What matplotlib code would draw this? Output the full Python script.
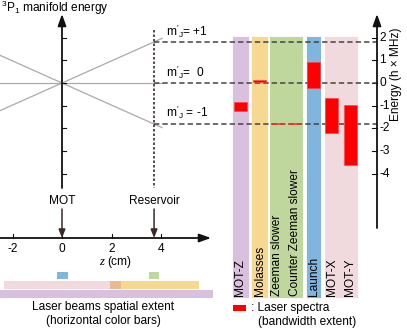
import matplotlib
matplotlib.use("Agg")
import matplotlib.pyplot as plt

plt.rcParams["font.family"] = ["Liberation Sans", "DejaVu Sans"]
plt.rcParams["mathtext.fontset"] = "custom"
plt.rcParams["mathtext.rm"] = "Liberation Sans"
plt.rcParams["mathtext.it"] = "Liberation Sans:italic"

# laser beams, spectra (MHz) and spatial extent (cm)
beams = ["MOT-Z", "Molasses", "Zeeman slower", "Counter Zeeman slower",
         "Launch", "MOT-X", "MOT-Y"]
spec_lo = [-1.23, 0.05, -1.82, -1.82, -0.22, -2.20, -3.60]
spec_hi = [-0.84, 0.12, -1.76, -1.76, 0.92, -0.66, -0.97]

groups = ["MOT-Z", "Molasses", "Zeeman", "Launch", "MOT-X/Y"]
group_colors = ["#d9c0de", "#f6d891", "#bfd79c", "#80b6de", "#f1dadd"]
z_lo = [-2.5, 1.95, 3.5, -0.2, -2.35]
z_hi = [6.1, 5.55, 3.9, 0.25, 2.4]

z_ticks = [-2, 0, 2, 4]
e_ticks = [2, 1, 0, -1, -2, -3, -4]
z_reservoir = 3.72
zeeman_shift = 1.81  # MHz at reservoir for m'J = +-1
mj_labels = [r"$\mathrm{m'_J}$= +1", r"$\mathrm{m'_J}$=  0", r"$\mathrm{m'_J}$ = -1"]


# pixel -> data helpers for layout (x: cm, y: MHz)
def px(x):
    return (x - 62) / 24.75


def py(y):
    return (83 - y) / 22.7


fig = plt.figure(figsize=(4.07, 3.29), dpi=100)
ax = fig.add_axes([0, 0, 1, 1])
ax.set_xlim(px(0), px(407))
ax.set_ylim(py(329), py(0))
ax.axis("off")

fs = 8.6
axis_col = "#111111"
arrow = dict(arrowstyle="-|>,head_length=0.7,head_width=0.25", color=axis_col, lw=1.3,
             shrinkA=0, shrinkB=0)

# --- left: manifold energy vs z ---
slope = zeeman_shift / z_reservoir
z_end = px(162)
for s in (slope, 0, -slope):
    ax.plot([px(0), z_end], [s * px(0), s * z_end], color="#aaaaaa", lw=0.9)

ax.annotate("", xy=(0, py(14)), xytext=(0, py(188)), arrowprops=arrow)
for e in e_ticks:
    ax.plot([0, px(66)], [e, e], color=axis_col, lw=0.8)
ax.text(px(1), py(8), r"$^3$P$_1$ manifold energy", fontsize=fs, va="center", ha="left")

ax.plot([z_reservoir, z_reservoir], [py(30), py(188)], color="#3a2a2a", lw=1.2,
        ls=(0, (1.5, 1.2)))

for e, lab, ylab in zip([zeeman_shift, 0, -zeeman_shift], mj_labels, [31, 72, 112]):
    ax.plot([z_reservoir, px(377)], [e, e], color="#444444", lw=1.1, ls=(0, (3.5, 2)),
            zorder=3)
    ax.text(px(166), py(ylab), lab, fontsize=fs, va="center", ha="left")

# z axis
ax.annotate("", xy=(px(211), py(238)), xytext=(px(0), py(238)), arrowprops=arrow)
for z in z_ticks:
    ax.plot([z, z], [py(238), py(234)], color=axis_col, lw=0.8)
    ax.text(z, py(249), f"{z}", fontsize=fs, ha="center", va="center")
ax.text(px(104), py(262), "z", fontsize=fs + 0.5, family="Liberation Serif",
        style="italic", ha="right", va="center")
ax.text(px(107), py(262), "(cm)", fontsize=fs, ha="left", va="center")

small_arrow = dict(arrowstyle="-|>,head_length=0.5,head_width=0.2", color="#3a2a2a",
                   lw=1.1, shrinkA=0, shrinkB=0)
for z, lab in [(0, "MOT"), (z_reservoir, "Reservoir")]:
    ax.text(z, py(201), lab, fontsize=fs, ha="center", va="center")
    ax.annotate("", xy=(z, py(238)), xytext=(z, py(209)), arrowprops=small_arrow)

# spatial extent bars
rows = {"MOT-Z": (290, 298), "Molasses": (281, 289), "Zeeman": (272, 279),
        "Launch": (272, 279), "MOT-X/Y": (281, 289)}
for g, c, a, b in zip(groups, group_colors, z_lo, z_hi):
    t, btm = rows[g]
    ax.bar(a, py(t) - py(btm), width=b - a, bottom=py(btm), align="edge",
           color=c, lw=0)
ov_a, ov_b = z_lo[1], z_hi[4]
ax.bar(ov_a, py(281) - py(289), width=ov_b - ov_a, bottom=py(289), align="edge",
       color="#eab98e", lw=0)
ax.text(px(103), py(307), "Laser beams spatial extent", fontsize=fs, ha="center", va="center")
ax.text(px(103), py(321), "(horizontal color bars)", fontsize=fs, ha="center", va="center")

# --- right: laser spectra columns ---
col_left = [232, 251, 269, 306, 324]
col_right = [249, 268, 303, 321, 358]
for l, r, c in zip(col_left, col_right, group_colors):
    ax.bar(px(l), py(36) - py(298), width=px(r) - px(l), bottom=py(298),
           align="edge", color=c, edgecolor="#ffffff", lw=0.6, zorder=2)

beam_x = [240.5, 259.5, 277, 294.5, 313.5, 332, 350.5]
for bx, lo, hi, name in zip(beam_x, spec_lo, spec_hi, beams):
    ax.bar(px(bx), hi - lo, width=px(13) - px(0), bottom=lo, color="#ff0000",
           edgecolor="#ff4040", lw=0.4, zorder=4)
    ax.text(px(bx), py(296), name, fontsize=fs, rotation=90, ha="center", va="bottom",
            zorder=5)

# right energy axis
ax.annotate("", xy=(px(377), py(14)), xytext=(px(377), py(228)), arrowprops=arrow)
for e in e_ticks:
    ax.plot([px(372), px(377)], [e, e], color=axis_col, lw=0.8)
    ax.text(px(379), e, f"{e}", fontsize=fs, ha="left", va="center")
ax.text(px(396), py(74), "Energy (h × MHz)", fontsize=fs, rotation=90,
        ha="center", va="center")

# legend for spectra
ax.bar(px(233), py(305) - py(311), width=px(246) - px(233), bottom=py(311),
       align="edge", color="#ff0000", lw=0)
ax.text(px(251), py(308), ": Laser spectra", fontsize=fs, ha="left", va="center")
ax.text(px(258), py(322), "(bandwidth extent)", fontsize=fs, ha="left", va="center")

fig.savefig("out.png", dpi=100)
